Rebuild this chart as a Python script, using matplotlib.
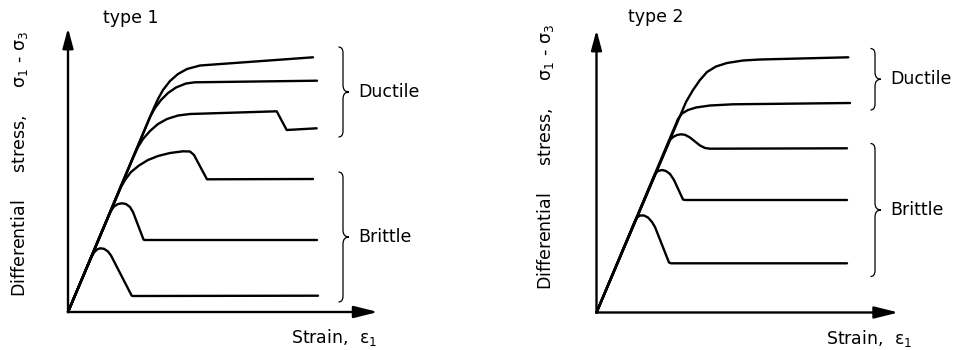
import matplotlib
matplotlib.use("Agg")
import matplotlib.pyplot as plt
from matplotlib.path import Path
from matplotlib.patches import PathPatch

# Schematic stress-strain curves (arbitrary units), highest confining pressure first.
# type 1: gradual transition, curves bend away from the elastic line
T1_A_STRAIN = [0, 8.5, 9.0, 9.5, 10.2, 11.0, 11.9, 13.2, 24.5]
T1_A_STRESS = [0, 20.2, 21.3, 22.2, 23.1, 23.8, 24.3, 24.65, 25.47]
T1_B_STRAIN = [0, 8.2, 8.7, 9.3, 10.0, 10.8, 11.8, 12.7, 24.9]
T1_B_STRESS = [0, 19.5, 20.4, 21.2, 21.9, 22.45, 22.85, 22.97, 23.13]
T1_C_STRAIN = [0, 6.5, 7.0, 7.5, 8.2, 9.0, 9.9, 11.0, 12.2, 20.87, 21.87, 24.87]
T1_C_STRESS = [0, 15.4, 16.5, 17.3, 18.1, 18.8, 19.3, 19.65, 19.8, 20.07, 18.2, 18.37]
T1_D_STRAIN = [0, 5.3, 5.7, 6.3, 7.1, 8.0, 9.0, 10.2, 11.5, 12.2, 12.6, 13.9, 24.5]
T1_D_STRESS = [0, 12.5, 13.2, 14.0, 14.65, 15.2, 15.6, 15.9, 16.07, 16.05, 15.7, 13.27, 13.3]
T1_E_STRAIN = [0, 4.25, 4.6, 5.0, 5.4, 5.8, 6.2, 6.5, 7.55, 7.65, 24.9]
T1_E_STRESS = [0, 10.05, 10.55, 10.8, 10.87, 10.8, 10.5, 10.0, 7.25, 7.2, 7.2]
T1_F_STRAIN = [0, 2.3, 2.6, 2.9, 3.2, 3.6, 4.0, 4.3, 6.37, 6.5, 25.0]
T1_F_STRESS = [0, 5.4, 5.95, 6.25, 6.37, 6.32, 6.05, 5.65, 1.63, 1.6, 1.63]

# type 2: sharp yield, stress drops after a short peak
T2_A_STRAIN = [0, 8.95, 9.65, 10.35, 11.05, 11.95, 13.05, 14.65, 16.35, 25.18]
T2_A_STRESS = [0, 21.05, 22.25, 23.25, 24.05, 24.6, 24.95, 25.2, 25.3, 25.52]
T2_B_STRAIN = [0, 8.15, 8.55, 9.15, 9.95, 11.35, 13.65, 25.35]
T2_B_STRESS = [0, 19.35, 19.9, 20.25, 20.5, 20.7, 20.82, 20.95]
T2_C_STRAIN = [0, 7.35, 7.65, 8.05, 8.45, 8.85, 9.35, 9.85, 10.35, 10.85, 11.35, 25.05]
T2_C_STRESS = [0, 17.25, 17.55, 17.75, 17.82, 17.77, 17.5, 17.1, 16.7, 16.45, 16.38, 16.42]
T2_D_STRAIN = [0, 5.85, 6.15, 6.55, 6.95, 7.35, 7.75, 8.65, 8.85, 25.05]
T2_D_STRESS = [0, 13.85, 14.15, 14.25, 14.15, 13.85, 13.25, 11.3, 11.25, 11.25]
T2_E_STRAIN = [0, 3.85, 4.05, 4.35, 4.75, 5.15, 5.55, 5.85, 7.25, 7.45, 25.05]
T2_E_STRESS = [0, 9.15, 9.5, 9.7, 9.7, 9.5, 9.05, 8.55, 5.0, 4.92, 4.92]

# regime brackets: (top, bottom) stress of each bracket
T1_DUCTILE = (26.5, 17.5)
T1_BRITTLE = (14.0, 1.0)
T2_DUCTILE = (26.4, 20.25)
T2_BRITTLE = (16.9, 3.6)

FONT = "DejaVu Sans"
FS = 12.5
LW = 1.7


def draw_brace(ax, x, top, bottom, label, tip_dx=0.6, text_dx=1.5):
    mid = (top + bottom) / 2
    d, h, h2 = 0.45, 0.6, 0.7
    verts = [
        (x - d, top), (x, top), (x, top - h),
        (x, mid + h2),
        (x, mid), (x + tip_dx, mid),
        (x, mid), (x, mid - h2),
        (x, bottom + h),
        (x, bottom), (x - d, bottom),
    ]
    codes = [
        Path.MOVETO, Path.CURVE3, Path.CURVE3,
        Path.LINETO,
        Path.CURVE3, Path.CURVE3,
        Path.CURVE3, Path.CURVE3,
        Path.LINETO,
        Path.CURVE3, Path.CURVE3,
    ]
    ax.add_patch(PathPatch(Path(verts, codes), fill=False, lw=0.9, color="black"))
    ax.text(x + text_dx, mid, label, ha="left", va="center", fontsize=FS, family=FONT)


def draw_axes(ax, y_tip, x_tip):
    ax.annotate("", xy=(0, y_tip), xytext=(0, 0),
                arrowprops=dict(arrowstyle="-|>,head_length=1.2,head_width=0.32",
                                lw=1.7, color="black", shrinkA=0, shrinkB=0,
                                mutation_scale=10))
    ax.annotate("", xy=(x_tip, 0), xytext=(0, 0),
                arrowprops=dict(arrowstyle="-|>,head_length=1.45,head_width=0.36",
                                lw=1.7, color="black", shrinkA=0, shrinkB=0,
                                mutation_scale=10))


fig = plt.figure(figsize=(9.6, 3.5), dpi=100)
left = fig.add_axes([0, 0, 0.5, 1])
right = fig.add_axes([0.5, 0, 0.5, 1])
left.set_xlim(-6.8, 41.2)
left.set_ylim(-3.8, 31.2)
right.set_xlim(-11.65, 36.35)
right.set_ylim(-3.75, 31.25)

type1 = [(T1_A_STRAIN, T1_A_STRESS), (T1_B_STRAIN, T1_B_STRESS), (T1_C_STRAIN, T1_C_STRESS),
         (T1_D_STRAIN, T1_D_STRESS), (T1_E_STRAIN, T1_E_STRESS), (T1_F_STRAIN, T1_F_STRESS)]
type2 = [(T2_A_STRAIN, T2_A_STRESS), (T2_B_STRAIN, T2_B_STRESS), (T2_C_STRAIN, T2_C_STRESS),
         (T2_D_STRAIN, T2_D_STRESS), (T2_E_STRAIN, T2_E_STRESS)]

for ax, curves in ((left, type1), (right, type2)):
    ax.axis("off")
    for strain, stress in curves:
        ax.plot(strain, stress, color="black", lw=LW,
                solid_joinstyle="round", solid_capstyle="round")

draw_axes(left, 28.4, 31.0)
draw_axes(right, 28.25, 30.2)

draw_brace(left, 27.5, *T1_DUCTILE, "Ductile")
draw_brace(left, 27.5, *T1_BRITTLE, "Brittle")
draw_brace(right, 27.85, *T2_DUCTILE, "Ductile")
draw_brace(right, 27.85, *T2_BRITTLE, "Brittle")

ylabel = "Differential     stress,     σ$_1$ - σ$_3$"
left.text(3.5, 29.4, "type 1", ha="left", va="center", fontsize=FS, family=FONT)
right.text(3.15, 29.6, "type 2", ha="left", va="center", fontsize=FS, family=FONT)
left.text(-4.8, 14.8, ylabel, rotation=90, ha="center", va="center", fontsize=FS, family=FONT)
right.text(-5.15, 15.6, ylabel, rotation=90, ha="center", va="center", fontsize=FS, family=FONT)
left.text(26.6, -2.6, "Strain,  ε$_1$", ha="center", va="center", fontsize=FS, family=FONT)
right.text(27.25, -2.6, "Strain,  ε$_1$", ha="center", va="center", fontsize=FS, family=FONT)

fig.savefig("out.png", dpi=100)
